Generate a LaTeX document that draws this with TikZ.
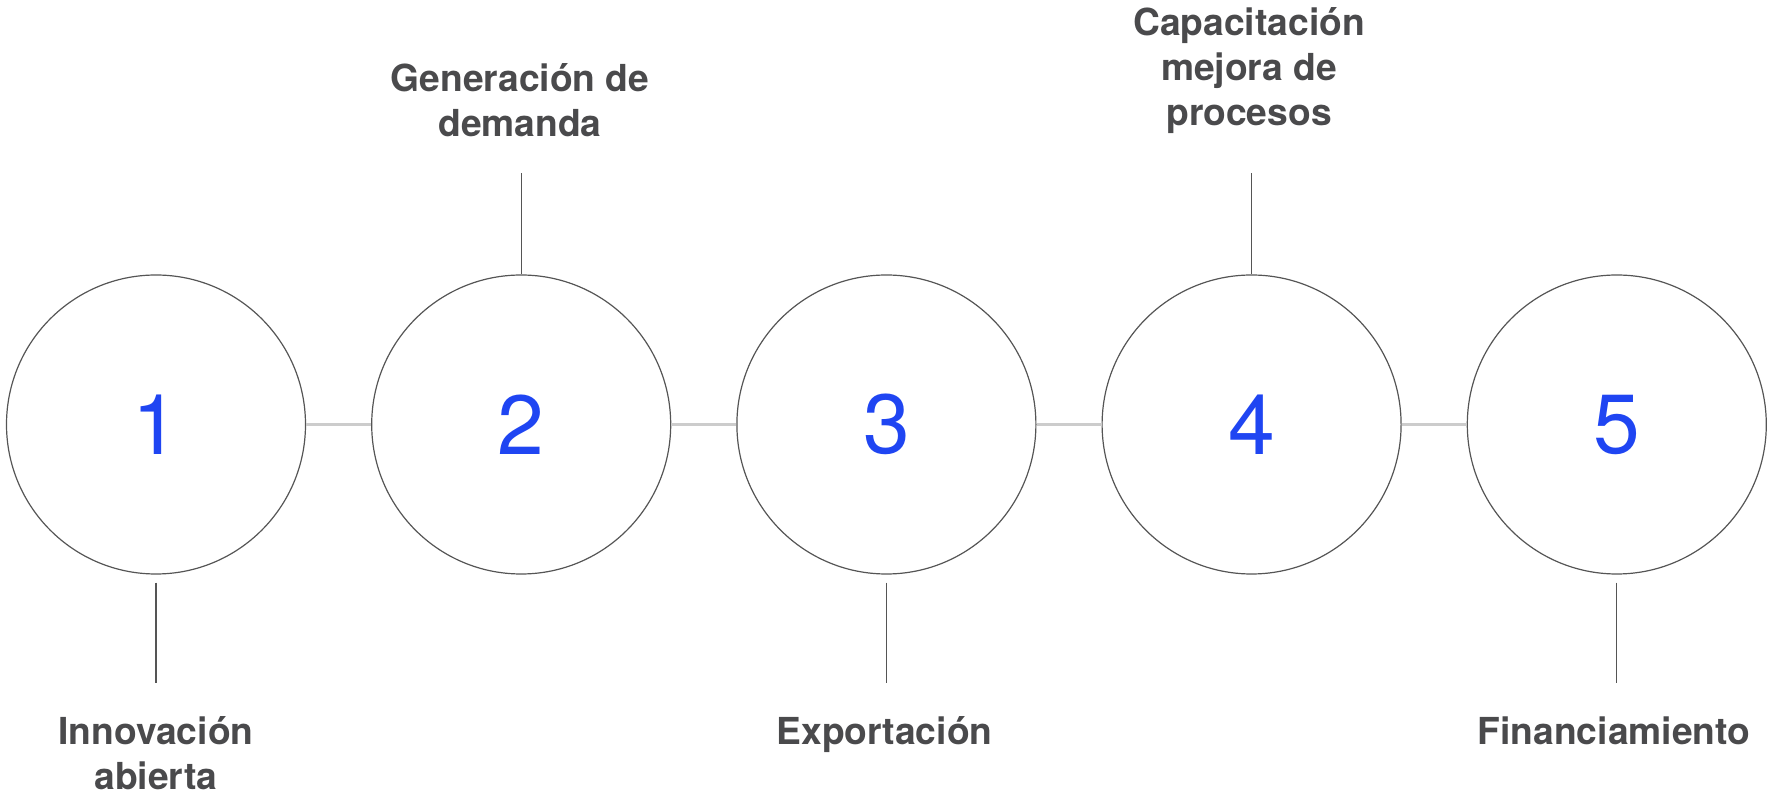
\documentclass[tikz,border=0pt]{standalone}
\usepackage{fontspec}
\setmainfont{TeX Gyre Heros}
\usetikzlibrary{positioning}

\definecolor{labelgray}{HTML}{4A4A4C}
\definecolor{numblue}{HTML}{1F45F2}
\definecolor{linkgray}{HTML}{CCCCCC}
\definecolor{ringgray}{HTML}{555555}

\tikzset{
  stage/.style={circle,draw=ringgray,line width=0.6pt,minimum size=149.5pt,inner sep=0pt,
    text=numblue,font=\fontsize{42}{42}\selectfont},
  steplabel/.style={anchor=base,align=center,inner sep=0pt,text=labelgray,
    font=\fontsize{18.6}{22.5}\selectfont\bfseries},
  link/.style={draw=linkgray,line width=1.25pt},
  tick/.style={draw=ringgray,line width=0.6pt}
}

\begin{document}
\begin{tikzpicture}[x=0.5pt,y=-0.5pt,node distance=32.5pt]
    \useasboundingbox (0,0) rectangle (1769,801);
    % circles
    \node[stage] (c1) at (156,424.5) {1};
    \node[stage,right=of c1] (c2) {2};
    \node[stage,right=of c2] (c3) {3};
    \node[stage,right=of c3] (c4) {4};
    \node[stage,right=of c4] (c5) {5};
    \draw[link] (c1) -- (c2);
    \draw[link] (c2) -- (c3);
    \draw[link] (c3) -- (c4);
    \draw[link] (c4) -- (c5);
    % ticks
    \coordinate[below=54pt of c1.south] (b1);
    \coordinate[above=50.5pt of c2.north] (t2);
    \coordinate[below=54pt of c3.south] (b3);
    \coordinate[above=50.5pt of c4.north] (t4);
    \coordinate[below=54pt of c5.south] (b5);
    \draw[tick,shorten <=4pt] (c1) -- (b1);
    \draw[tick] (c2) -- (t2);
    \draw[tick,shorten <=4pt] (c3) -- (b3);
    \draw[tick] (c4) -- (t4);
    \draw[tick,shorten <=4pt] (c5) -- (b5);
    % labels
    \node[steplabel] (l1) at (156,790) {Innovación\\abierta};
    \node[steplabel] (l2) at (520,136.7) {Generación de\\demanda};
    \node[steplabel] (l3) at (884.5,745) {Exportación};
    \node[steplabel] (l4) at (1249,126) {Capacitación\\mejora de\\procesos};
    \node[steplabel] (l5) at (1614,745) {Financiamiento};
\end{tikzpicture}
\end{document}
